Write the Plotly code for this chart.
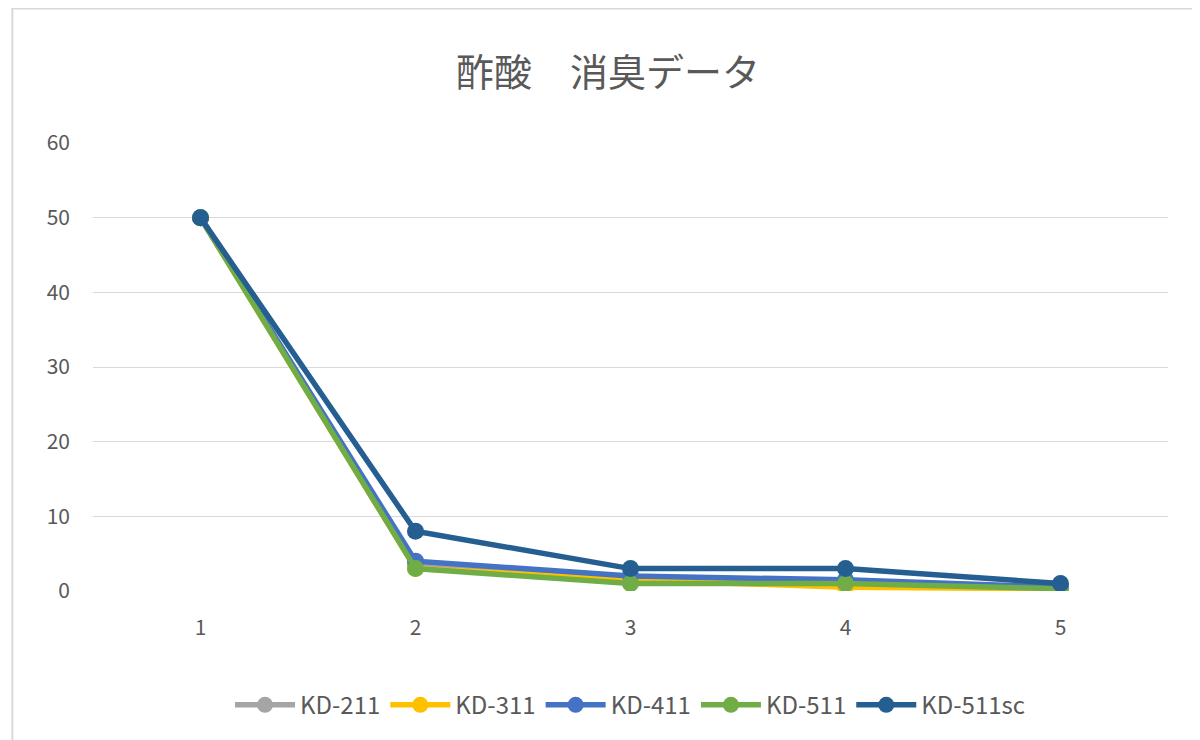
import plotly.graph_objects as go

categories = ["1", "2", "3", "4", "5"]
series = {
    "KD-211": [50, 3.5, 1.5, 1, 0.5],
    "KD-311": [50, 3, 1.5, 0.5, 0.3],
    "KD-411": [50, 4, 2, 1.5, 0.5],
    "KD-511": [50, 3, 1, 1, 0.3],
    "KD-511sc": [50, 8, 3, 3, 1],
}
colors = {"KD-211": "#A5A5A5", "KD-311": "#FFC000", "KD-411": "#4472C4",
          "KD-511": "#70AD47", "KD-511sc": "#255E91"}

fig = go.Figure()
for name, vals in series.items():
    fig.add_trace(go.Scatter(x=categories, y=vals, name=name, mode="lines+markers",
                             line=dict(color=colors[name], width=5.5),
                             marker=dict(size=17, color=colors[name])))

fig.update_layout(
    width=1200, height=740, paper_bgcolor="white", plot_bgcolor="white",
    font=dict(family="Noto Sans CJK JP", color="#595959", size=21),
    title=dict(text="酢酸　消臭データ", x=0.5, y=0.93, xanchor="center",
               font=dict(size=38, color="#595959")),
    margin=dict(l=85, r=40, t=135, b=157),
    xaxis=dict(type="category", range=[-0.5, 4.5], showgrid=False, showline=False,
               ticks="", tickfont=dict(size=21), ticklabelstandoff=22),
    yaxis=dict(range=[0, 60], dtick=10, gridcolor="#D9D9D9", zeroline=False,
               showline=False, tickfont=dict(size=21), ticklabelstandoff=22),
    legend=dict(orientation="h", x=0.5, xanchor="center", y=-0.255, yanchor="middle",
                font=dict(size=24), itemwidth=60),
    shapes=[dict(type="rect", xref="paper", yref="paper", x0=-0.075, x1=1.03,
                 y0=-0.34, y1=1.3, line=dict(color="#D9D9D9", width=2))],
)
fig.write_html("out.html")
